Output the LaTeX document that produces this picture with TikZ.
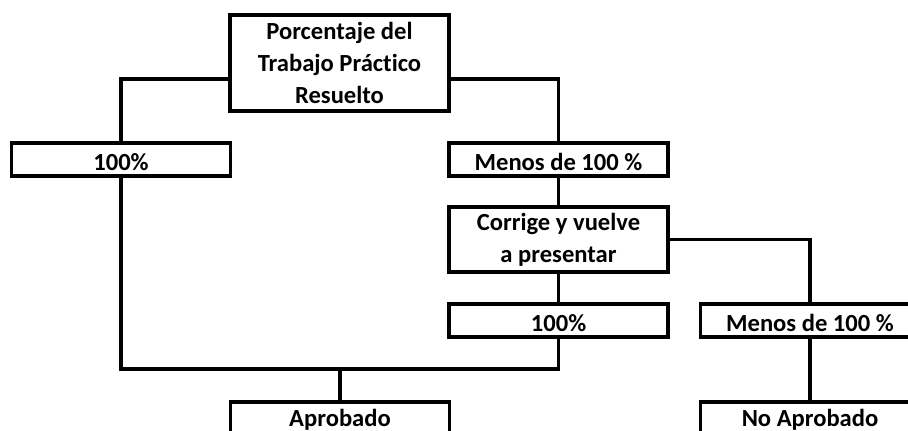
\documentclass[tikz,border=0pt]{standalone}
\usepackage{fontspec}
\setmainfont{Carlito}[Ligatures={NoCommon,NoContextual}]
\begin{document}
\begin{tikzpicture}[x=0.02cm,y=-0.02cm,
    marco/.style={draw, line width=0.065cm, inner sep=0pt,
      minimum width=4.38cm, minimum height=0.66cm,
      font=\fontsize{14}{18}\selectfont\bfseries},
    caja/.style={marco, text height=13pt, text depth=0pt},
    cajafin/.style={marco, text height=9pt, text depth=0pt},
    cajados/.style={marco, align=center},
    linea/.style={line width=0.065cm}]
            \useasboundingbox (0,0) rectangle (908,430);
            
            % Drawing the root box
            \node [cajados, minimum height=1.92cm] (raiz) at (339.5,63) {Porcentaje del\\Trabajo Prác\kern0pt tico\\Resuelto};%
            
            % Drawing the first level boxes
            \node [caja] (cien) at (121,159.5) {100\%};%
            \node [caja] (menos) at (558.5,159.5) {Menos de 100 \%};%
            
            % Drawing the second attempt box
            \node [cajados, minimum height=1.3cm] (corrige) at (558.5,239.5) {Corrige y vuelve\\a presentar};%
            
            % Drawing the second level boxes
            \node [caja] (cienb) at (558.5,320.5) {100\%};%
            \node [caja] (menosb) at (810,320.5) {Menos de 100 \%};%
            
            % Drawing the result boxes
            \node [cajafin] (aprobado) at (340,418.5) {Aprobado};%
            \node [cajafin] (noaprobado) at (810,418.5) {No Aprobado};%
            
            % Drawing connectors
            \coordinate (union) at (340,369);%
            \draw [linea] ([yshift=-0.32cm]raiz.west) -| (cien.north);%
            \draw [linea] ([yshift=-0.32cm]raiz.east) -| (menos.north);%
            \draw [linea] (menos.south) -- (corrige.north);%
            \draw [linea] (corrige.south) -- (cienb.north);%
            \draw [linea] (corrige.east) -| (menosb.north);%
            \draw [linea] (cien.south) |- (union) -| (cienb.south);%
            \draw [linea] (union) -- (aprobado.north);%
            \draw [linea] (menosb.south) -- (noaprobado.north);%
        \end{tikzpicture}
\end{document}
